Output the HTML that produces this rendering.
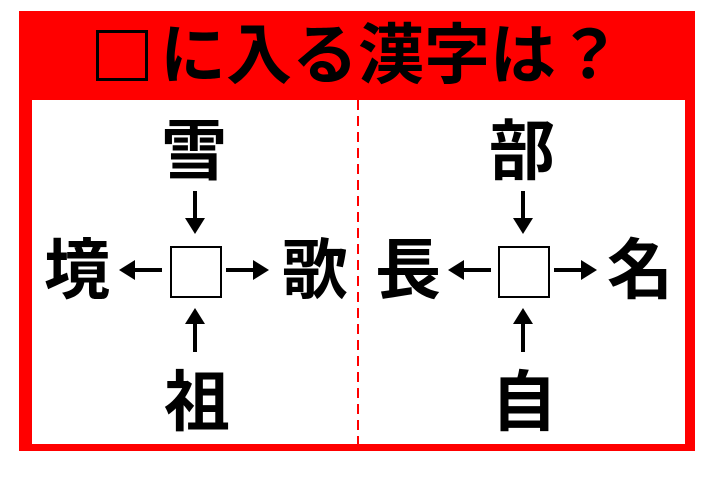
<!DOCTYPE html>
<html><head><meta charset="utf-8"><style>
html,body{margin:0;padding:0;background:#fff;width:720px;height:493px;overflow:hidden}
svg{display:block}
text{font-family:"Liberation Sans","Noto Sans CJK JP",sans-serif;font-weight:bold;fill:#000}
</style></head><body>
<svg width="720" height="493" viewBox="0 0 720 493">
<defs>
<marker id="ah" markerWidth="4" markerHeight="5" refX="3" refY="2.5" orient="auto" markerUnits="strokeWidth">
<path d="M0,0 L4,2.5 L0,5 Z" fill="#000"/>
</marker>
</defs>
<rect x="19" y="11" width="676" height="440" fill="#ff0000"/>
<rect x="32" y="100" width="653" height="344" fill="#fff"/>
<line x1="358" y1="100" x2="358" y2="444" stroke="#ff0000" stroke-width="2" stroke-dasharray="10,6"/>
<rect x="97.5" y="31.5" width="49" height="48" fill="none" stroke="#000" stroke-width="3"/>
<text x="160" y="78" font-size="66">に入る漢字は？</text>
<g font-size="66" text-anchor="middle">
<text x="194" y="174">雪</text>
<text x="77" y="293">境</text>
<text x="315" y="293">歌</text>
<text x="197" y="425">祖</text>
<text x="522" y="174">部</text>
<text x="408" y="293">長</text>
<text x="640" y="293">名</text>
<text x="524" y="425">自</text>
</g>
<g fill="#fff" stroke="#000" stroke-width="2">
<rect x="171" y="247" width="50" height="50"/>
<rect x="499" y="247" width="50" height="50"/>
</g>
<g stroke="#000" stroke-width="4" marker-end="url(#ah)">
<line x1="195" y1="191" x2="195" y2="230"/>
<line x1="195" y1="352" x2="195" y2="312"/>
<line x1="162" y1="270" x2="123" y2="270"/>
<line x1="226" y1="270" x2="265" y2="270"/>
<line x1="523" y1="191" x2="523" y2="230"/>
<line x1="523" y1="352" x2="523" y2="312"/>
<line x1="491" y1="270" x2="452" y2="270"/>
<line x1="554" y1="270" x2="593" y2="270"/>
</g>
</svg>
</body></html>
